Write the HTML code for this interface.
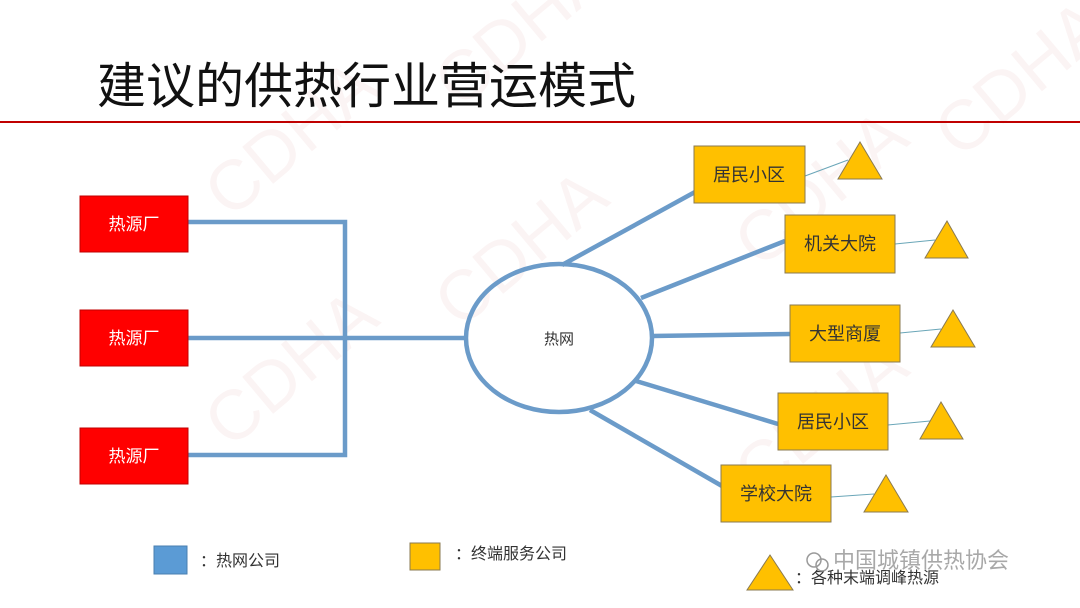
<!DOCTYPE html>
<html><head><meta charset="utf-8"><style>
html,body{margin:0;padding:0;background:#fff;}
svg{display:block;font-family:"Liberation Sans","Noto Sans CJK SC",sans-serif;}
</style></head><body>
<svg width="1080" height="608" viewBox="0 0 1080 608" xmlns="http://www.w3.org/2000/svg">
<g font-size="70" font-family="Liberation Sans,sans-serif" fill="#fbf4f4">
<text x="230" y="220" transform="rotate(-40 230 220)">CDHA</text>
<text x="460" y="110" transform="rotate(-40 460 110)">CDHA</text>
<text x="460" y="330" transform="rotate(-40 460 330)">CDHA</text>
<text x="230" y="450" transform="rotate(-40 230 450)">CDHA</text>
<text x="760" y="270" transform="rotate(-40 760 270)">CDHA</text>
<text x="760" y="500" transform="rotate(-40 760 500)">CDHA</text>
<text x="960" y="160" transform="rotate(-40 960 160)">CDHA</text>
</g>
<text x="97" y="103" font-size="49" fill="#111">建议的供热行业营运模式</text>
<line x1="0" y1="122" x2="1080" y2="122" stroke="#c00000" stroke-width="2"/>

<g stroke="#6b9bc9" stroke-width="4.5" fill="none">
<polyline points="188,222 345,222 345,455 188,455"/>
<line x1="188" y1="338" x2="466" y2="338"/>
<ellipse cx="559" cy="338" rx="93" ry="74"/>
<line x1="562" y1="265" x2="695" y2="192"/>
<line x1="641" y1="298" x2="785" y2="241"/>
<line x1="652" y1="336" x2="790" y2="334"/>
<line x1="636" y1="381" x2="778" y2="424"/>
<line x1="590" y1="410" x2="722" y2="486"/>
</g>
<text x="559" y="344" font-size="15" text-anchor="middle" fill="#333">热网</text>

<g fill="#f00" stroke="#c00000" stroke-width="1">
<rect x="80" y="196" width="108" height="56"/>
<rect x="80" y="310" width="108" height="56"/>
<rect x="80" y="428" width="108" height="56"/>
</g>
<g fill="#fff" font-size="17" text-anchor="middle">
<text x="134" y="230">热源厂</text>
<text x="134" y="344">热源厂</text>
<text x="134" y="462">热源厂</text>
</g>

<g stroke="#6aa6b8" stroke-width="1">
<line x1="805" y1="176" x2="848" y2="160"/>
<line x1="895" y1="244" x2="935" y2="240"/>
<line x1="900" y1="333" x2="941" y2="329"/>
<line x1="888" y1="425" x2="930" y2="421"/>
<line x1="831" y1="497" x2="874" y2="494"/>
</g>
<g fill="#ffc000" stroke="#8a7a50" stroke-width="1">
<rect x="694" y="146" width="111" height="57"/>
<rect x="785" y="215" width="110" height="58"/>
<rect x="790" y="305" width="110" height="57"/>
<rect x="778" y="393" width="110" height="57"/>
<rect x="721" y="465" width="110" height="57"/>
<polygon points="860,142 882,179 838,179"/>
<polygon points="947,221 968,258 925,258"/>
<polygon points="953,310 975,347 931,347"/>
<polygon points="941,402 963,439 920,439"/>
<polygon points="886,475 908,512 864,512"/>
</g>
<g fill="#333" font-size="18" text-anchor="middle">
<text x="749" y="181">居民小区</text>
<text x="840" y="250">机关大院</text>
<text x="845" y="340">大型商厦</text>
<text x="833" y="428">居民小区</text>
<text x="776" y="500">学校大院</text>
</g>

<rect x="154" y="546" width="33" height="28" fill="#5b9bd5" stroke="#4a7fb0"/>
<text x="200" y="566" font-size="16" fill="#333">：热网公司</text>
<rect x="410" y="543" width="30" height="27" fill="#ffc000" stroke="#8a7a50"/>
<text x="455" y="559" font-size="16" fill="#333">：终端服务公司</text>
<polygon points="770,555 793,590 747,590" fill="#ffc000" stroke="#8a7a50"/>
<text x="795" y="583" font-size="16" fill="#333">：各种末端调峰热源</text>
<text x="833" y="568" font-size="22" fill="#9a9a9a" opacity="0.85">中国城镇供热协会</text>
<circle cx="814" cy="560" r="7" fill="none" stroke="#9a9a9a" stroke-width="1.5"/>
<circle cx="822" cy="565" r="6" fill="none" stroke="#9a9a9a" stroke-width="1.5"/>
</svg>
</body></html>
